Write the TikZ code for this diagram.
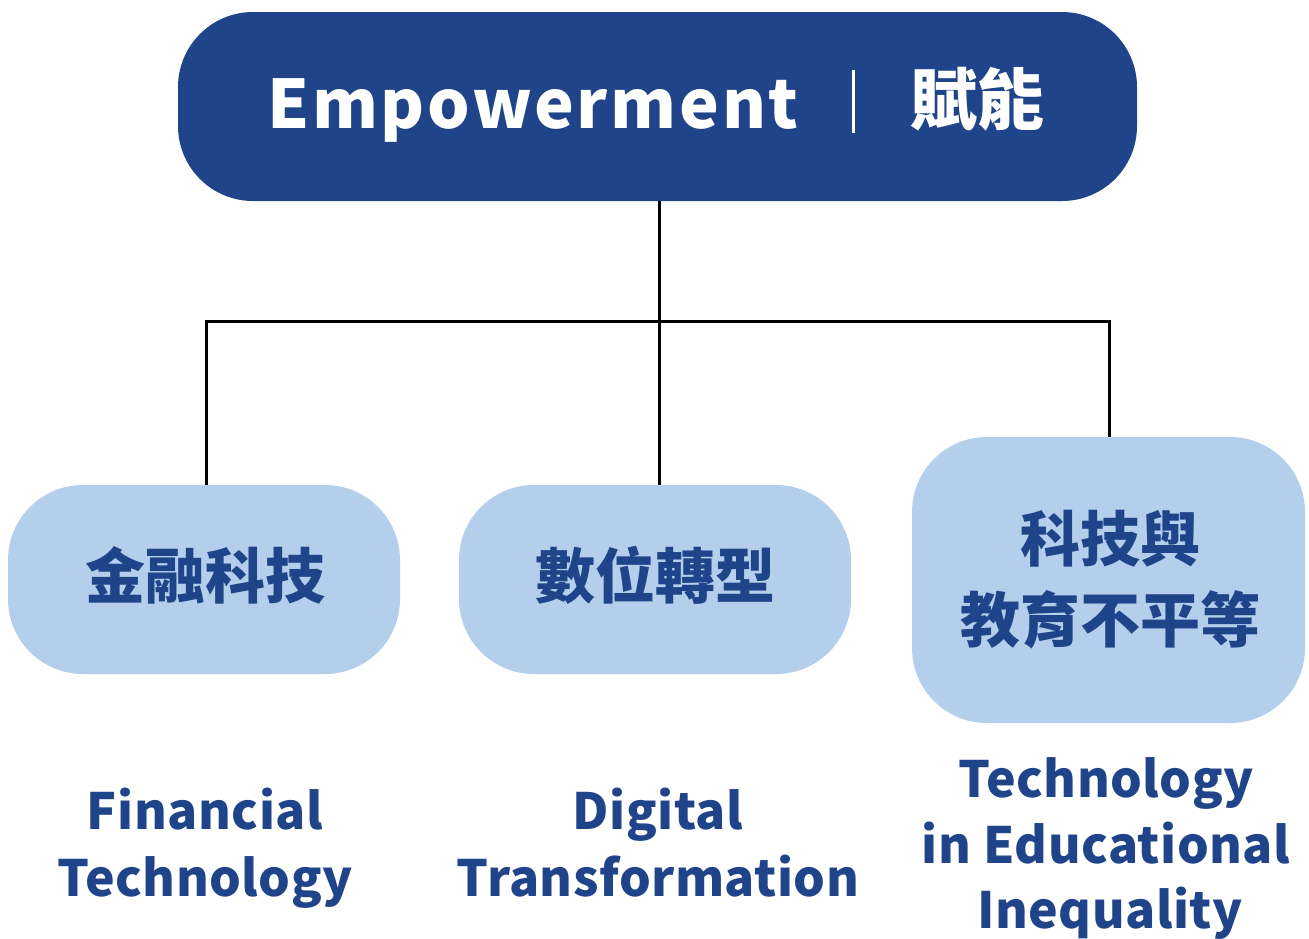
\documentclass[tikz,border=0pt]{standalone}
\usepackage{fontspec}
\newfontfamily\titlefont[LetterSpace=4]{Noto Sans CJK TC}
\newfontfamily\cjkfont{Noto Sans CJK TC}
\newfontfamily\labelfont[LetterSpace=1]{Noto Sans CJK TC}
\definecolor{darkblue}{HTML}{1F4489}
\definecolor{lightblue}{HTML}{B3CFEC}
\begin{document}
\begin{tikzpicture}[x=1pt,y=-1pt,
  topbox/.style={fill=darkblue, rounded corners=75pt, draw=none},
  subbox/.style={fill=lightblue, rounded corners=75pt, draw=none},
  conn/.style={line width=3pt, black},
  boxtext/.style={text=darkblue, font=\cjkfont\bfseries\fontsize{60}{72}\selectfont, anchor=base, inner sep=0pt},
  lbl/.style={text=darkblue, font=\labelfont\bfseries\fontsize{50}{60}\selectfont, anchor=base, inner sep=0pt}]
\useasboundingbox (0,0) rectangle (1309,938);
% connectors (drawn first so boxes cover ends)
\coordinate (top) at (659,201);
\coordinate (hl) at (206,321);
\coordinate (hm) at (659,321);
\coordinate (hr) at (1109,321);
\coordinate (b1) at (206,486);
\coordinate (b2) at (659,486);
\coordinate (b3) at (1109,438);
\draw[conn] (top) -- (b2);
\draw[conn] (b1) -- (hl) -- (hr) -- (b3);
% boxes
\fill[topbox] (178,12) rectangle (1137,201);
\fill[subbox] (8,485) rectangle (400,674);
\fill[subbox] (459,485) rectangle (851,674);
\fill[subbox] (912,437) rectangle (1305,723);
% title
\node[text=white, font=\titlefont\bfseries\fontsize{67}{80}\selectfont, anchor=base, inner sep=0pt] (emp) at (533,128) {Empowerment};
\coordinate (bart) at (853,70);
\coordinate (barb) at (853,133);
\draw[white, line width=3pt] (bart) -- (barb);
\node[text=white, font=\cjkfont\bfseries\fontsize{67}{80}\selectfont, anchor=base, inner sep=0pt] (fn) at (977,124) {賦能};
% box texts
\node[boxtext] (t1) at (205,598) {金融科技};
\node[boxtext] (t2) at (655,598) {數位轉型};
\node[boxtext] (t3a) at (1110,561) {科技與};
\node[boxtext] (t3b) at (1110,642) {教育不平等};
% labels
\node[lbl] (l1a) at (205,829) {Financial};
\node[lbl] (l1b) at (205,896) {Technology};
\node[lbl] (l2a) at (658,829) {Digital};
\node[lbl] (l2b) at (658,896) {Transformation};
\node[lbl] (l3a) at (1106,797) {Technology};
\node[lbl] (l3b) at (1106,863) {in Educational};
\node[lbl] (l3c) at (1110,928) {Inequality};
\end{tikzpicture}
\end{document}
